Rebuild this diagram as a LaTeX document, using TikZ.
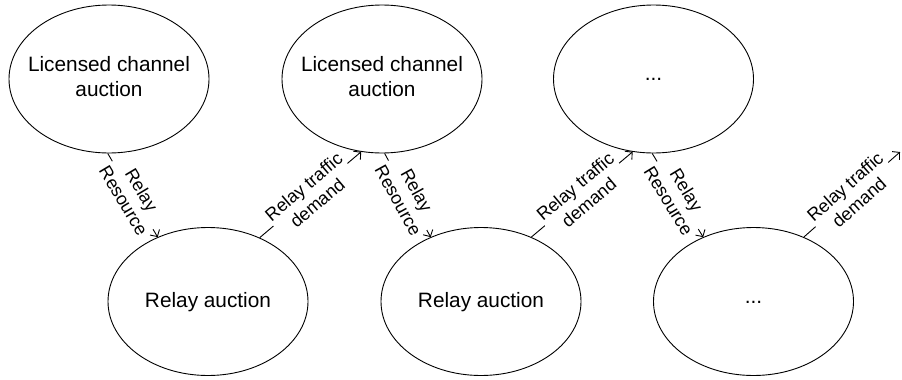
\documentclass[tikz,border=0pt]{standalone}
\usepackage{fontspec}
\setmainfont{Liberation Sans}
\usetikzlibrary{shapes.geometric,arrows.meta}
\begin{document}
\begin{tikzpicture}[x=1pt,y=-1pt,
  auct/.style={ellipse,draw,line width=0.9pt,minimum width=200pt,minimum height=148pt,inner sep=0pt},
  auctxt/.style={align=center,inner sep=0pt,font=\fontsize{20.8}{25}\selectfont},
  flow/.style={line width=0.9pt,-{Straight Barb[length=5pt,width=11pt,line width=0.9pt]}},
  lab/.style={midway,sloped,fill=white,inner sep=1pt,align=center,font=\fontsize{18}{21}\selectfont}]
\useasboundingbox (0,0) rectangle (902,380);
% top row
\node[auct] (t1) at (109,79) {};
\node[auct] (t2) at (382,79) {};
\node[auct] (t3) at (653.5,79) {};
% bottom row
\node[auct] (b1) at (208,301.5) {};
\node[auct] (b2) at (481,301.5) {};
\node[auct] (b3) at (753.5,301.5) {};
% texts
\node[auctxt] (t1x) at (109,77) {Licensed channel\\auction};
\node[auctxt] (t2x) at (382,77) {Licensed channel\\auction};
\node[auctxt] (t3x) at (653.5,79) {...};
\node[auctxt] (b1x) at (208,302) {Relay auction};
\node[auctxt] (b2x) at (481,302) {Relay auction};
\node[auctxt] (b3x) at (753.5,302) {...};
\coordinate (out) at (900,152);
% connectors
\draw[flow] (t1.-91.5) -- node[lab] {Relay\\Resource} (b1.128.8);
\draw[flow] (b1.51.8) -- node[lab] {Relay traffic\\demand} (t2.-106.6);
\draw[flow] (t2.-88.5) -- node[lab] {Relay\\Resource} (b2.128.8);
\draw[flow] (b2.52.8) -- node[lab] {Relay traffic\\demand} (t3.-106.2);
\draw[flow] (t3.-91) -- node[lab] {Relay\\Resource} (b3.128.8);
\draw[flow] (b3.52.5) -- node[lab] {Relay traffic\\demand} (out);
\end{tikzpicture}
\end{document}
